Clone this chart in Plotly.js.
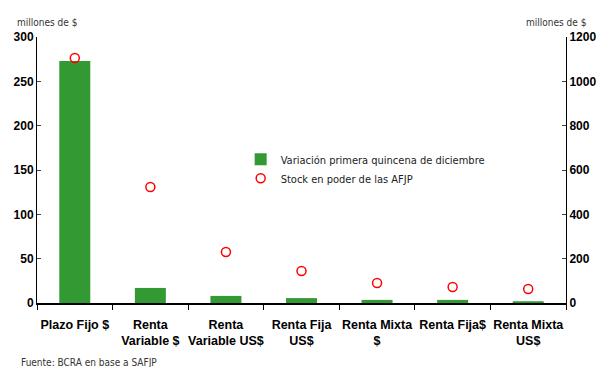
<!DOCTYPE html>
<html>
<head>
<meta charset="utf-8">
<script src="https://cdn.plot.ly/plotly-3.0.1.min.js"></script>
<style>html,body{margin:0;padding:0;background:#fff;}#chart{width:605px;height:367px;}</style>
</head>
<body>
<div id="chart"></div>
<script>
const categories = ["Plazo Fijo $", "Renta<br>Variable $", "Renta<br>Variable US$", "Renta Fija<br>US$", "Renta Mixta<br>$", "Renta Fija$", "Renta Mixta<br>US$"];
const variacion = [273, 17, 8, 5.5, 3.5, 3.5, 2];
const stock = [1105, 523, 230, 144, 90, 72, 63];
const leftTicks = [0, 50, 100, 150, 200, 250, 300];
const rightTicks = [0, 200, 400, 600, 800, 1000, 1200];

const font = "Liberation Sans, Arial, sans-serif";
const small = "DejaVu Sans Condensed, sans-serif";
const data = [
  {type: "bar", x: categories, y: variacion, name: "Variación primera quincena de diciembre",
   marker: {color: "#339933"}, width: 0.41, yaxis: "y"},
  {type: "scatter", mode: "markers", x: categories, y: stock, name: "Stock en poder de las AFJP",
   marker: {symbol: "circle-open", color: "#ff0000", size: 9, line: {width: 1.5, color: "#ff0000"}}, yaxis: "y2"}
];
const layout = {
  width: 605, height: 367,
  margin: {l: 37, r: 39, t: 37, b: 64},
  paper_bgcolor: "#fff", plot_bgcolor: "#fff",
  font: {family: font, color: "#000"},
  showlegend: true,
  legend: {x: 0.385, y: 0.595, xanchor: "left", yanchor: "top", font: {size: 11, family: small, color: "#222"},
           bgcolor: "rgba(0,0,0,0)", tracegroupgap: 4, itemwidth: 30},
  xaxis: {type: "category", showline: true, linecolor: "#000", linewidth: 2, ticks: "outside", tickson: "boundaries",
          ticklen: 5, tickcolor: "#000", tickangle: 0, ticklabelstandoff: 9,
          tickfont: {size: 12.5, family: font, weight: "bold"}, showgrid: false, zeroline: false,
          range: [-0.5, 6.5]},
  yaxis: {range: [0, 300], tickvals: leftTicks, showline: true, linecolor: "#000", linewidth: 1, ticks: "inside", ticklen: 4,
          tickfont: {size: 12, weight: "bold"}, showgrid: false, zeroline: false},
  yaxis2: {range: [0, 1200], tickvals: rightTicks, overlaying: "y", side: "right", showline: true, linecolor: "#000", linewidth: 1,
           ticks: "inside", ticklen: 4, tickfont: {size: 12, weight: "bold"}, showgrid: false, zeroline: false},
  annotations: [
    {text: "millones de $", xref: "paper", yref: "paper", x: 0.0, y: 1.0, yshift: 22, xanchor: "center", xshift: 10, showarrow: false, font: {size: 10, family: small, color: "#333"}},
    {text: "millones de $", xref: "paper", yref: "paper", x: 1.0, y: 1.0, yshift: 22, xanchor: "center", xshift: -10, showarrow: false, font: {size: 10, family: small, color: "#333"}},
    {text: "Fuente: BCRA en base a SAFJP", xref: "paper", yref: "paper", x: 0, y: 0, xshift: -18, yshift: -59, xanchor: "left", yanchor: "middle", showarrow: false, font: {size: 10, family: small, color: "#333"}}
  ]
};
Plotly.newPlot("chart", data, layout, {displayModeBar: false, staticPlot: true});
</script>
</body>
</html>
